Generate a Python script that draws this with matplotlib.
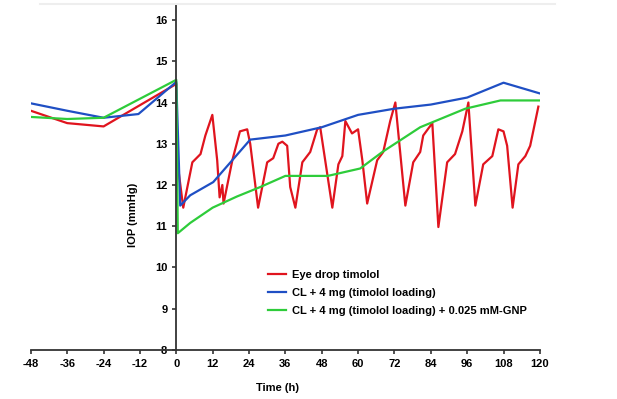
import matplotlib.pyplot as plt
from matplotlib.lines import Line2D

# time points (h) and IOP (mmHg)
drop_t = [-48, -36, -24, 0, 0.3, 2.3, 5.3, 8, 9.6, 11.9, 13.5, 14.3, 15.2, 15.6, 18.5,
          21, 23.4, 24.4, 27, 30, 32, 33.7, 35, 36.6, 37.6, 39.3, 41.6, 44.2, 46.5,
          47.5, 51.5, 53.5, 54.8, 55.8, 58, 60, 61.4, 63, 66.3, 68.3, 70.6, 72.3,
          75.6, 78.2, 80.5, 81.5, 84.5, 86.5, 89.4, 92, 94.4, 96.4, 98.7, 101.3,
          104.3, 106.3, 108, 109.2, 111, 112.9, 115.2, 116.8, 119.5]
drop_iop = [13.8, 13.5, 13.42, 14.45, 12.6, 11.45, 12.55, 12.75, 13.2, 13.7, 12.6,
            11.7, 12.0, 11.55, 12.6, 13.3, 13.35, 13.0, 11.45, 12.55, 12.65, 13.0,
            13.05, 12.95, 11.95, 11.45, 12.55, 12.8, 13.35, 13.4, 11.45, 12.5, 12.7,
            13.55, 13.25, 13.35, 12.6, 11.55, 12.6, 12.8, 13.55, 14.0, 11.5, 12.55,
            12.8, 13.2, 13.5, 10.98, 12.55, 12.75, 13.3, 14.0, 11.5, 12.5, 12.7,
            13.35, 13.3, 12.95, 11.45, 12.5, 12.7, 12.95, 13.9]

cl_t = [-48, -36, -24, -12.5, 0, 1.3, 4.6, 12.2, 24.4, 36, 48, 60, 72, 84, 96, 108, 120]
cl_iop = [13.98, 13.8, 13.63, 13.72, 14.5, 11.5, 11.75, 12.07, 13.1, 13.2, 13.4,
          13.7, 13.85, 13.95, 14.12, 14.48, 14.22]

gnp_t = [-48, -36, -24, 0, 0.5, 4.6, 12, 20, 27.7, 36, 41, 50, 60.7, 68, 80.5,
         95.4, 107, 120]
gnp_iop = [13.65, 13.6, 13.63, 14.55, 10.83, 11.08, 11.45, 11.72, 11.95, 12.22,
           12.22, 12.22, 12.4, 12.8, 13.4, 13.85, 14.05, 14.05]

labels = ["Eye drop timolol",
          "CL + 4 mg (timolol loading)",
          "CL + 4 mg (timolol loading) + 0.025 mM-GNP"]
colors = ["#e0141e", "#1f4fc4", "#2ecc3a"]
xticks = list(range(-48, 121, 12))
yticks = list(range(8, 17))

plt.rcParams["font.family"] = ["Liberation Sans", "DejaVu Sans"]
plt.rcParams["font.weight"] = "bold"
plt.rcParams["axes.unicode_minus"] = False

fig = plt.figure(figsize=(6.17, 3.99), dpi=100)
ax = fig.add_axes([0.050, 0.123, 0.825, 0.864])

for t, v, c, lab in zip([drop_t, cl_t, gnp_t], [drop_iop, cl_iop, gnp_iop], colors, labels):
    ax.plot(t, v, color=c, lw=1.6, label=lab)

ax.set_xlim(-48, 120)
ax.set_ylim(8, 16.36)
ax.set_xticks(xticks)
ax.set_yticks(yticks)
ax.tick_params(labelsize=8, width=1.2, length=3, color="#333333")
for lab in ax.get_xticklabels() + ax.get_yticklabels():
    lab.set_fontweight("bold")

ax.spines["left"].set_position(("data", 0))
ax.spines["top"].set_visible(False)
ax.spines["right"].set_visible(False)
for s in ("left", "bottom"):
    ax.spines[s].set_linewidth(1.3)
    ax.spines[s].set_color("#333333")

fig.text(278 / 617, 1 - 388 / 399, "Time (h)", ha="center", va="center",
         fontsize=8, fontweight="bold")
fig.text(133 / 617, 1 - 215 / 399, "IOP (mmHg)", ha="center", va="center",
         rotation=90, fontsize=8, fontweight="bold")

ax.legend(loc="upper left", bbox_to_anchor=(0.447, 0.262), frameon=False,
          handlelength=1.6, handletextpad=0.5, labelspacing=0.72,
          prop={"weight": "bold", "size": 8})

fig.add_artist(Line2D([40 / 617, 555 / 617], [1 - 4 / 399, 1 - 4 / 399],
                      color="#eeeeee", lw=1.5, transform=fig.transFigure))

fig.savefig("out.png", dpi=100)
